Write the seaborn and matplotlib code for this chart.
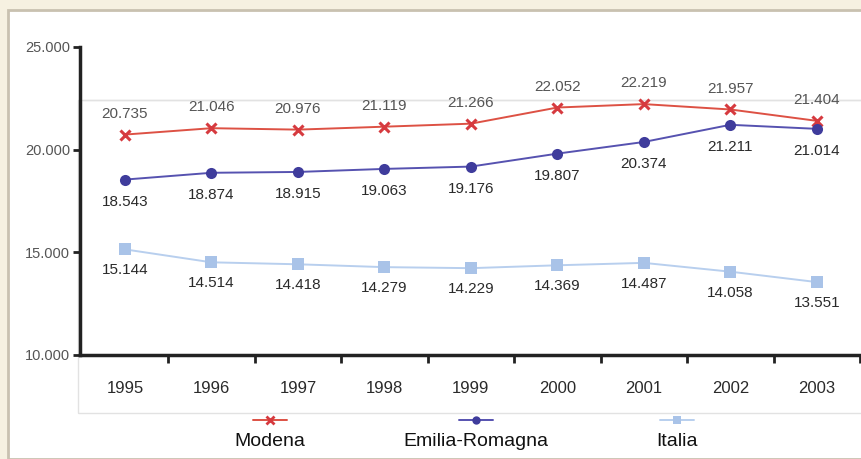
import numpy as np
import pandas as pd
import matplotlib
matplotlib.use("Agg")
import matplotlib.pyplot as plt
import seaborn as sns
from matplotlib.lines import Line2D
from matplotlib.patches import Rectangle
from matplotlib import font_manager

# === Data ===
years = ["1995", "1996", "1997", "1998", "1999", "2000", "2001", "2002", "2003"]
modena = [20735, 21046, 20976, 21119, 21266, 22052, 22219, 21957, 21404]
emilia = [18543, 18874, 18915, 19063, 19176, 19807, 20374, 21211, 21014]
italia = [15144, 14514, 14418, 14279, 14229, 14369, 14487, 14058, 13551]
series_names = ["Modena", "Emilia-Romagna", "Italia"]
yticks = [10000, 15000, 20000, 25000]

def fmt(v):
    return f"{v:,}".replace(",", ".")

df = pd.DataFrame({
    "pos": list(range(len(years))) * 3,
    "value": modena + emilia + italia,
    "serie": [s for s in series_names for _ in years],
})

sns.set_style("white")
installed = {f.name for f in font_manager.fontManager.ttflist}
family = "Liberation Sans Narrow" if "Liberation Sans Narrow" in installed else "Liberation Sans"
plt.rcParams["font.family"] = [family, "DejaVu Sans"]

colors = {"Modena": "#d63a3f", "Emilia-Romagna": "#3f3c9c", "Italia": "#a9c3e8"}
line_colors = {"Modena": "#dd5144", "Emilia-Romagna": "#5652b0", "Italia": "#b8cfee"}
markers = {"Modena": "x", "Emilia-Romagna": "o", "Italia": "s"}
msizes = {"Modena": 7, "Emilia-Romagna": 8, "Italia": 8}

fig = plt.figure(figsize=(8.62, 4.59), dpi=100, facecolor="#f6f1e1")
# white inner panel
fig.patches.append(Rectangle((8 / 862, 0), 854 / 862, 449 / 459, transform=fig.transFigure,
                             facecolor="white", edgecolor="#c9c1b0", linewidth=2, zorder=-2))
# light grey box behind the plot
fig.patches.append(Rectangle((78 / 862, 1 - 413 / 459), 790 / 862, 313 / 459,
                             transform=fig.transFigure, facecolor="none",
                             edgecolor="#e2e2e2", linewidth=1, zorder=-1))

ax = fig.add_axes([80 / 862, 1 - 355 / 459, 780 / 862, 308 / 459])
ax.set_facecolor("none")
ax.set_zorder(2)

for name in series_names:
    sub = df[df["serie"] == name]
    sns.lineplot(data=sub, x="pos", y="value", ax=ax, color=line_colors[name], linewidth=1.4,
                 marker=markers[name], markersize=msizes[name], markeredgewidth=2.2 if name == "Modena" else 0,
                 markerfacecolor=colors[name], markeredgecolor=colors[name], legend=False)

# data labels
for i, v in enumerate(modena):
    ax.annotate(fmt(v), (i, v), xytext=(0, 15), textcoords="offset points",
                ha="center", va="center", fontsize=11, color="#555555")
for i, v in enumerate(emilia):
    ax.annotate(fmt(v), (i, v), xytext=(0, -16), textcoords="offset points",
                ha="center", va="center", fontsize=11, color="#2a2a2a")
for i, v in enumerate(italia):
    ax.annotate(fmt(v), (i, v), xytext=(0, -15), textcoords="offset points",
                ha="center", va="center", fontsize=11, color="#2a2a2a")

ax.set_xlim(-0.52, 8.5)
ax.set_ylim(10000, 25000)
ax.set_xticks(range(len(years)))
ax.set_xticklabels(years, fontsize=12, color="#2a2a2a")
ax.set_xticks(np.arange(0.5, 9, 1.0), minor=True)
ax.set_yticks(yticks)
ax.set_yticklabels([fmt(t) for t in yticks], fontsize=10.5, color="#555555")
ax.tick_params(axis="x", which="major", bottom=True, length=0, pad=19)
ax.tick_params(axis="x", which="minor", bottom=True, length=6, width=2, color="#222222",
               direction="out")
ax.tick_params(axis="y", left=True, length=5, width=2, color="#222222", direction="out", pad=2)
ax.set_xlabel("")
ax.set_ylabel("")
for side in ["top", "right"]:
    ax.spines[side].set_visible(False)
for side in ["left", "bottom"]:
    ax.spines[side].set_linewidth(2.5)
    ax.spines[side].set_color("#222222")

# grey line crossing the top of the plot
fig.add_artist(Line2D([83 / 862, 1], [1 - 100 / 459] * 2, transform=fig.transFigure,
                      color="#e2e2e2", linewidth=1, zorder=-1))

# legend: markers above labels
leg_x = [270, 476, 677]
for name, xc in zip(series_names, leg_x):
    fig.add_artist(Line2D([(xc - 17) / 862, (xc + 17) / 862], [1 - 420 / 459] * 2,
                          transform=fig.transFigure, color=line_colors[name], linewidth=1.4))
    fig.add_artist(Line2D([xc / 862], [1 - 420 / 459], transform=fig.transFigure,
                          color=colors[name], marker=markers[name], markersize=6,
                          markeredgewidth=2 if name == "Modena" else 0, linestyle="none"))
    fig.text(xc / 862, 1 - 442 / 459, name, ha="center", va="center", fontsize=14,
             color="#111111")

fig.savefig("out.png", dpi=100, facecolor=fig.get_facecolor())
